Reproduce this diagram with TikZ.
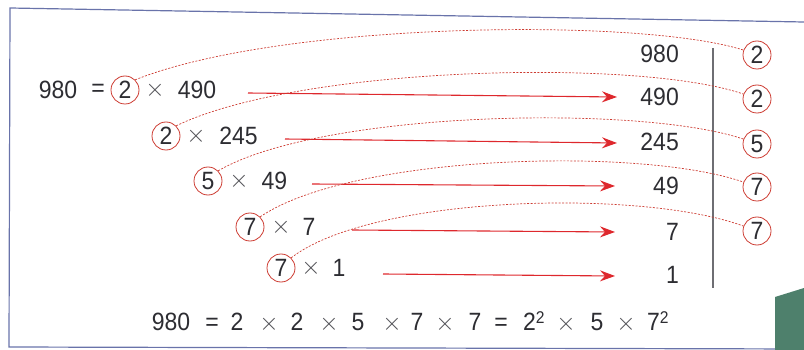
\documentclass[tikz,border=0pt]{standalone}
\usepackage{fontspec}
\setmainfont[FakeStretch=0.92]{Liberation Sans}
\usetikzlibrary{arrows.meta}
\definecolor{ink}{RGB}{45,45,50}
\definecolor{circred}{RGB}{205,60,50}
\definecolor{arrred}{RGB}{222,40,45}
\definecolor{frameblue}{RGB}{105,115,170}
\definecolor{greenbk}{RGB}{78,128,108}
\definecolor{timesgray}{RGB}{80,80,85}
\definecolor{rulegray}{RGB}{110,110,115}
\begin{document}
\begin{tikzpicture}[x=1pt,y=-1pt,
  num/.style={font=\fontsize{25}{25}\selectfont, text=ink, inner sep=0pt},
  tms/.style={font=\fontsize{30}{30}\selectfont, text=timesgray, inner sep=0pt},
  fac/.style={num, circle, draw=circred, line width=0.8pt, minimum size=28pt},
  arr/.style={draw=arrred, line width=1.1pt, -{Stealth[length=15pt,width=11pt,inset=5pt]}},
  dsh/.style={draw=circred, line width=0.7pt, dash pattern=on 2pt off 1.5pt},
  bot/.style={num, anchor=base},
  botx/.style={tms, anchor=base},
]
\useasboundingbox (0,0) rectangle (804,350);
% frame and background piece
\draw[frameblue, line width=1.2pt] (804,22) -- (10,8) -- (9,347) -- (804,349);
\fill[greenbk] (775,297) -- (804,288) -- (804,350) -- (775,350) -- cycle;

% left cascade
\node[num] (a980) at (58,90) {980};
\node[num] (aeq) at (98,90) {=};
\node[fac] (c1) at (125,90) {2};
\node[tms] (t1) at (155,90) {$\times$};
\node[num] (q1) at (197,90) {490};

\node[fac] (c2) at (166,136) {2};
\node[tms] (t2) at (196,136) {$\times$};
\node[num] (q2) at (238.5,136) {245};

\node[fac] (c3) at (208,181) {5};
\node[tms] (t3) at (239,181) {$\times$};
\node[num] (q3) at (274.5,181) {49};

\node[fac] (c4) at (250,227) {7};
\node[tms] (t4) at (281,227) {$\times$};
\node[num] (q4) at (309,227) {7};

\node[fac] (c5) at (281,268) {7};
\node[tms] (t5) at (311,268) {$\times$};
\node[num] (q5) at (339,268) {1};

% right column
\node[num, anchor=east] (n0) at (679,54) {980};
\node[num, anchor=east] (n1) at (679,97) {490};
\node[num, anchor=east] (n2) at (679,142) {245};
\node[num, anchor=east] (n3) at (679,186) {49};
\node[num, anchor=east] (n4) at (679,232) {7};
\node[num, anchor=east] (n5) at (679,275) {1};

\coordinate (vt) at (713,48);
\coordinate (vb) at (713,288);
\draw[rulegray, line width=1.3pt] (vt) -- (vb);

\node[fac] (r1) at (757,55) {2};
\node[fac] (r2) at (757,99) {2};
\node[fac] (r3) at (757,144) {5};
\node[fac] (r4) at (757,187) {7};
\node[fac] (r5) at (757,231) {7};

% arrows
\coordinate (s1) at (248,93);  \coordinate (e1) at (617,97);
\coordinate (s2) at (285,139); \coordinate (e2) at (617,143);
\coordinate (s3) at (312,184); \coordinate (e3) at (615,186);
\coordinate (s4) at (352,230); \coordinate (e4) at (615,232);
\coordinate (s5) at (383,274); \coordinate (e5) at (615,276);
\foreach \i in {1,...,5} {\draw[arr] (s\i) -- (e\i);}

% dashed links
\draw[dsh] (c1.45) .. controls +(145,-58) and +(-104,-33) .. (r1.160);
\draw[dsh] (c2.45) .. controls +(124,-60) and +(-104,-36) .. (r2.160);
\draw[dsh] (c3.45) .. controls +(103,-60) and +(-104,-35) .. (r3.160);
\draw[dsh] (c4.45) .. controls +(91,-62) and +(-104,-36) .. (r4.160);
\draw[dsh] (c5.45) .. controls +(80,-62) and +(-104,-38) .. (r5.160);

% bottom equation
\foreach \x/\t/\k in {171/980/b1, 212/=/b2, 237/2/b3, 297/2/b5, 358/5/b7, 417/7/b9, 475/7/b11, 501/=/b12, 597/5/b15}
  {\node[bot] (\k) at (\x,330) {\t};}
\foreach \x/\k in {269/b4, 329/b6, 392/b8, 445/b10, 566/b14, 626/b16}
  {\node[botx] (\k) at (\x,330) {$\times$};}
\node[num, anchor=base west] (b13) at (523,330) {2\raisebox{7pt}{\fontsize{17}{17}\selectfont 2}};
\node[num, anchor=base west] (b17) at (647,330) {7\raisebox{7pt}{\fontsize{17}{17}\selectfont 2}};
\end{tikzpicture}
\end{document}
